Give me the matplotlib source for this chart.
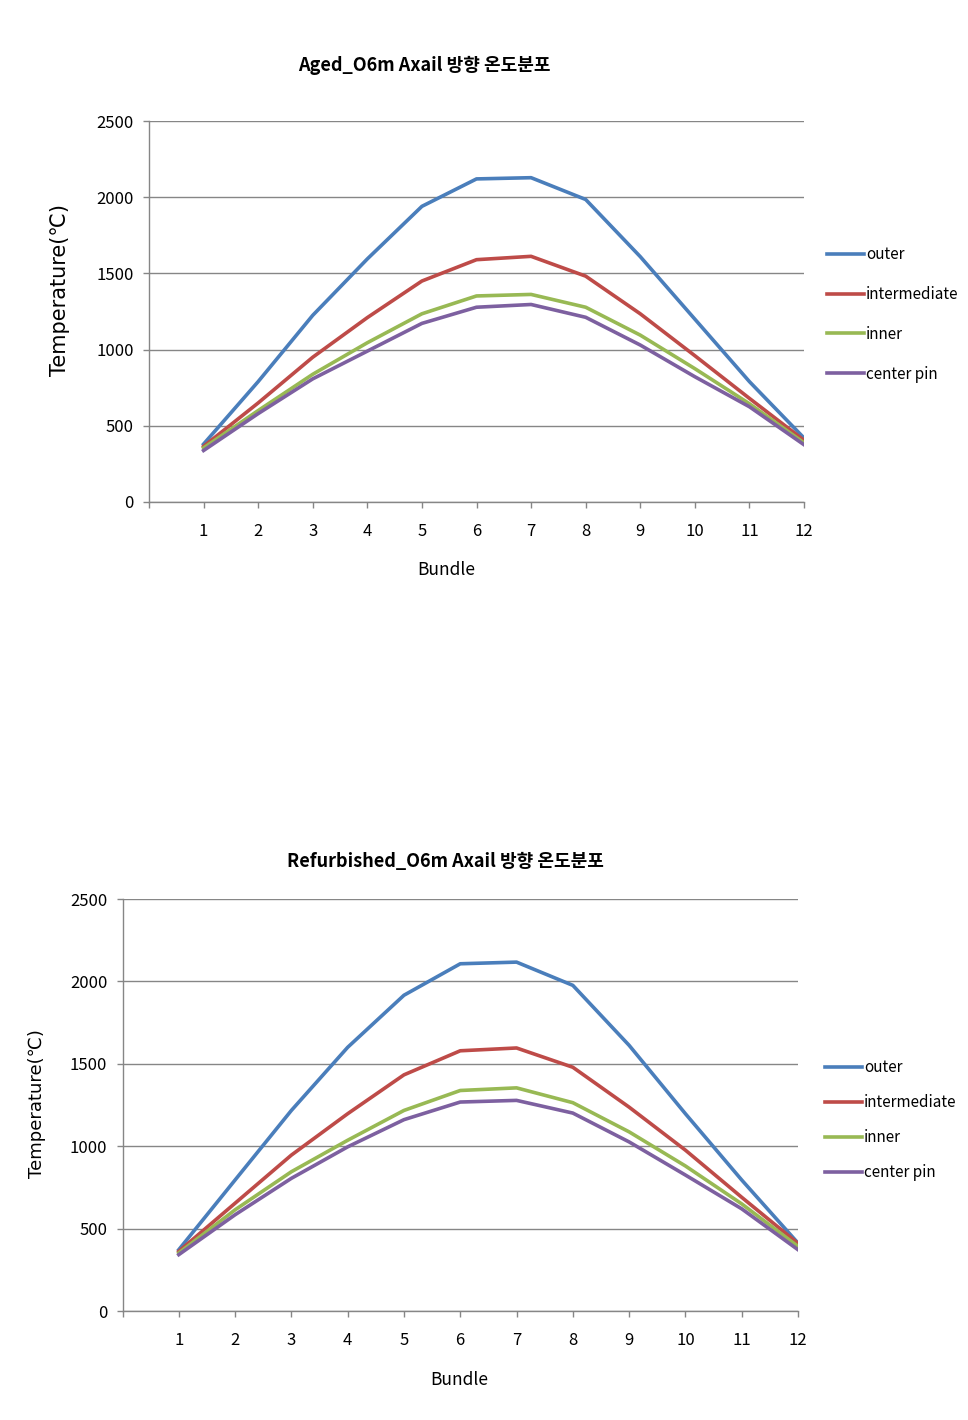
import matplotlib
matplotlib.use("Agg")
import matplotlib.pyplot as plt

plt.rcParams['font.family'] = ['Noto Sans CJK KR', 'DejaVu Sans']

bundles = [1, 2, 3, 4, 5, 6, 7, 8, 9, 10, 11, 12]
series_names = ["outer", "intermediate", "inner", "center pin"]

aged_outer = [380, 790, 1225, 1595, 1940, 2120, 2128, 1985, 1610, 1200, 790, 420]
aged_intermediate = [365, 650, 950, 1210, 1450, 1590, 1612, 1482, 1235, 960, 680, 405]
aged_inner = [355, 600, 838, 1045, 1235, 1352, 1362, 1278, 1095, 875, 645, 388]
aged_center = [338, 580, 808, 990, 1172, 1278, 1296, 1212, 1030, 822, 625, 376]

ref_outer = [372, 795, 1217, 1600, 1916, 2107, 2117, 1976, 1612, 1197, 795, 412]
ref_intermediate = [362, 654, 946, 1197, 1433, 1579, 1596, 1479, 1237, 976, 690, 410]
ref_inner = [352, 614, 845, 1036, 1217, 1338, 1354, 1264, 1087, 880, 650, 392]
ref_center = [342, 584, 805, 996, 1161, 1268, 1278, 1201, 1026, 825, 620, 372]

colors = ["#4A7EBB", "#BE4B48", "#98B954", "#7D60A0"]

yticks = [0, 500, 1000, 1500, 2000, 2500]

fig = plt.figure(figsize=(9.68, 14.2), dpi=100)

def draw(rect_px, title, data, title_xy, ylabel_xy, ylabel_size, xlabel_xy, legend_xy, legend_spacing):
    left, top, right, bottom = rect_px
    rect = [left / 968, 1 - bottom / 1420, (right - left) / 968, (bottom - top) / 1420]
    ax = fig.add_axes(rect)
    for vals, name, c in zip(data, series_names, colors):
        ax.plot(bundles, vals, color=c, lw=2.6, label=name)
    ax.set_xlim(0, 12)
    ax.set_ylim(0, 2500)
    ax.set_yticks(yticks)
    ax.set_yticklabels([str(v) for v in yticks], fontsize=12)
    ax.set_xticks(range(0, 13))
    ax.set_xticklabels([""] + [str(b) for b in bundles], fontsize=12)
    ax.yaxis.grid(True, color="#868686", lw=1.0)
    ax.set_axisbelow(True)
    for s in ["top", "right"]:
        ax.spines[s].set_visible(False)
    for s in ["left", "bottom"]:
        ax.spines[s].set_color("#868686")
        ax.spines[s].set_linewidth(1.0)
    ax.tick_params(axis='both', colors="#868686", length=4, width=1.0, labelcolor="black")
    ax.tick_params(axis='x', pad=11)
    ax.tick_params(axis='y', pad=7)
    fig.text(title_xy[0] / 968, 1 - title_xy[1] / 1420, title, ha='center', va='center',
             fontsize=13, fontweight='bold')
    fig.text(ylabel_xy[0] / 968, 1 - ylabel_xy[1] / 1420, "Temperature(℃)",
             rotation=90, ha='center', va='center', fontsize=ylabel_size,
             family=['DejaVu Sans', 'Noto Sans CJK KR'])
    fig.text(xlabel_xy[0] / 968, 1 - xlabel_xy[1] / 1420, "Bundle",
             ha='center', va='center', fontsize=12.5)
    ax.legend(loc='upper left', bbox_to_anchor=(legend_xy[0] / 968, 1 - legend_xy[1] / 1420),
              bbox_transform=fig.transFigure, frameon=False, fontsize=11,
              handlelength=2.4, handletextpad=0.15, labelspacing=legend_spacing,
              borderaxespad=0, borderpad=0)
    return ax

draw((149, 121, 804, 502),
     "Aged_O6m Axail 방향 온도분포",
     [aged_outer, aged_intermediate, aged_inner, aged_center],
     (424, 65), (60, 290), 15, (446, 570), (827, 246), 1.5)

draw((122.5, 899, 798, 1311),
     "Refurbished_O6m Axail 방향 온도분포",
     [ref_outer, ref_intermediate, ref_inner, ref_center],
     (445, 862), (37, 1104), 13, (459, 1380), (825, 1059), 1.18)

fig.savefig("out.png", dpi=100, facecolor="white")
